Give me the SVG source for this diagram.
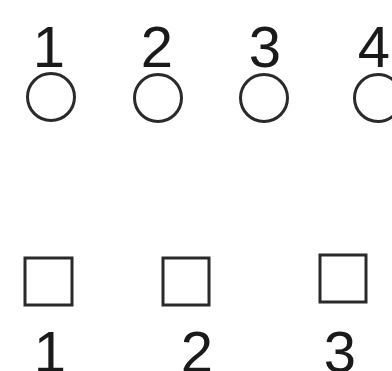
<svg xmlns="http://www.w3.org/2000/svg" width="392" height="371" viewBox="0 0 392 371">
<style>
.s{fill:none;stroke:#2a2a2a;stroke-width:3}
.t{font-family:"Liberation Sans",Arial,sans-serif;font-size:58px;fill:#1a1a1a;text-anchor:middle}
</style>
<rect width="392" height="371" fill="#fff"/>
<g id="c1"><text class="t" x="49" y="67">1</text><circle class="s" cx="51" cy="97" r="23.5"/></g>
<g id="c2"><text class="t" x="157" y="67">2</text><circle class="s" cx="158" cy="98" r="23.5"/></g>
<g id="c3"><text class="t" x="265" y="67">3</text><circle class="s" cx="264" cy="98" r="23.5"/></g>
<g id="c4"><text class="t" x="374" y="67">4</text><circle class="s" cx="378" cy="98" r="23.5"/></g>
<g id="s1"><rect class="s" x="25" y="258" width="47" height="47"/><text class="t" x="50" y="372">1</text></g>
<g id="s2"><rect class="s" x="163" y="258" width="46" height="47"/><text class="t" x="197" y="372">2</text></g>
<g id="s3"><rect class="s" x="320" y="255" width="46" height="47"/><text class="t" x="340" y="372">3</text></g>
<g id="connectors"></g>
</svg>
